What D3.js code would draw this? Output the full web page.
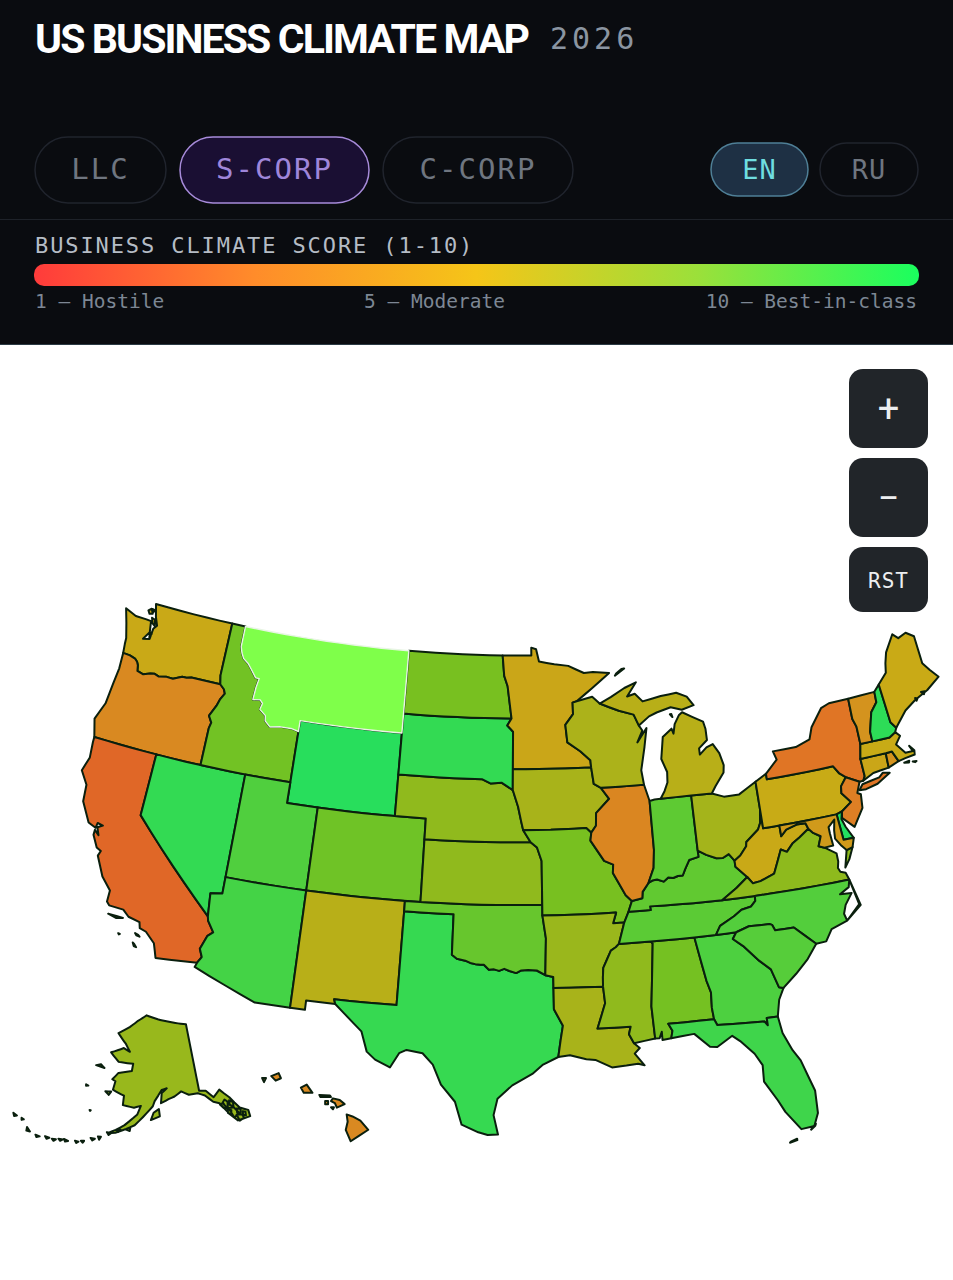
<!DOCTYPE html>
<html>
<head>
<meta charset="utf-8">
<style>
  html, body { margin: 0; padding: 0; background: #fff; }
  svg { display: block; }
</style>
<script src="https://cdn.jsdelivr.net/npm/d3@7"></script>
</head>
<body>
<script>
const entityTabs = ['LLC', 'S-CORP', 'C-CORP'];
const langTabs = ['EN', 'RU'];
const legendLabels = ['1 — Hostile', '5 — Moderate', '10 — Best-in-class'];
const scoreStops = [1, 3, 5, 7, 10];
const scoreColors = ['#e0392b', '#e07a25', '#c8ab16', '#78c020', '#22e060'];
const legendColors = ['#ff3b3b', '#ff8c2a', '#f5c518', '#9be03a', '#1aff5e'];

const stateCodes = ['WA','OR','CA','NV','ID','WY','UT','CO','AZ','NM','TX','OK','KS','NE','SD','ND','MN','IA','MO','AR','LA','MS','AL','GA','FL','TN','KY','IL','IN','OH','WV','VA','NC','SC','PA','NY','NJ','DE','MD','CT','RI','MA','VT','NH','ME','WI','MI','AK','HI','MT'];
const stateScores = [4.9,3.6,2.4,9.4,7.2,9.8,8.4,7.3,8.8,5.4,9.3,7.6,6.4,6.4,9.4,7.0,4.8,5.8,7.0,6.15,5.8,6.4,7.1,8.5,9.0,8.0,7.8,3.5,7.9,5.9,4.9,6.45,8.3,8.2,5.0,2.85,3.2,10,4.3,4.8,4.0,5.0,4.0,9.6,4.95,5.7,5.4,6.2,3.6,8];
const hoverState = 'MT';

// shared wiggly borders, lon/lat
const columbia = [[-124,46.27],[-123.5,46.25],[-123.1,46.17],[-122.9,46.05],[-122.78,45.9],[-122.7,45.63],[-122.25,45.55],[-121.8,45.68],[-121.5,45.72],[-121.2,45.65],[-120.65,45.73],[-120.2,45.72],[-119.6,45.92],[-119.3,45.93],[-118.98,46],[-116.92,46]];
const snake = [[-116.92,46],[-116.6,45.8],[-116.47,45.6],[-116.7,45.3],[-116.85,44.95],[-117.2,44.4],[-116.95,44.1],[-117.03,43.8]];
const bitterroot = [[-116.05,48],[-115.9,47.7],[-115.7,47.45],[-115.3,47.25],[-115,47],[-114.6,46.65],[-114.35,46.65],[-114.45,46.2],[-114.5,45.6],[-114,45.65],[-113.8,45.5],[-113.9,45.2],[-113.45,44.95],[-113.4,44.7],[-113,44.45],[-112.3,44.55],[-111.5,44.55],[-111.05,44.47]];
const redRiver = [[-100,34.56],[-99.7,34.38],[-99.2,34.3],[-98.9,34.2],[-98.6,34.15],[-98.3,34.13],[-98.1,34.13],[-97.8,33.9],[-97.5,33.92],[-97.2,33.85],[-96.9,33.95],[-96.6,33.85],[-96.2,33.75],[-95.9,33.88],[-95.5,33.9],[-95,33.87],[-94.5,33.64]];
const ohioIL = [[-89.15,37],[-88.5,37.1],[-88.45,37.4],[-88.05,37.8]];
const ohioIN = [[-88.05,37.8],[-87.8,37.9],[-87.5,37.93],[-87.1,37.8],[-86.8,37.98],[-86.5,37.93],[-86.2,38],[-85.9,38],[-85.7,38.3],[-85.4,38.7],[-84.8,38.8],[-84.8,39.1]];
const ohioOH = [[-84.8,39.1],[-84.3,38.85],[-83.7,38.63],[-83.3,38.6],[-82.9,38.75],[-82.6,38.4]];
const lowerMiss = [[-90.1,35],[-90.3,34.85],[-90.6,34.7],[-90.85,34.3],[-91.1,33.9],[-91.15,33.45],[-91.17,33]];
const rev = a => a.slice().reverse();

// lon/lat outlines, rough hand traced
const stateRings = {
  WA: [[[-124.73,48.38],[-123.9,48.16],[-123.1,48.15],[-122.75,48.13],[-122.62,47.6],[-122.95,47.2],[-122.5,47.28],[-122.45,47.8],[-122.25,48.0],[-122.5,48.4],[-122.75,49],[-117.03,49],[-117.04,46.42],...rev(columbia),[-124.07,46.7],[-124.1,47],[-124.4,47.7]],
    [[-123.15,48.6],[-122.95,48.72],[-122.78,48.5],[-123,48.45]],[[-122.75,48.3],[-122.5,48.25],[-122.4,47.95],[-122.6,48.05]],[[-122.9,48.72],[-122.7,48.7],[-122.75,48.6]],[[-122.6,47.6],[-122.45,47.55],[-122.55,47.35]]],
  OR: [[...columbia,...snake.slice(1),[-117.03,42],[-120,42],[-124.21,42],[-124.55,42.84],[-124.15,43.7],[-124.05,44.7],[-123.95,45.5]]],
  CA: [[[-124.21,42],[-120,42],[-120,39],[-114.63,35],[-114.57,34.8],[-114.14,34.3],[-114.43,34.08],[-114.72,33.4],[-114.52,33.03],[-114.72,32.72],[-117.12,32.53],[-117.25,32.85],[-117.4,33.2],[-118,33.65],[-118.4,33.75],[-118.5,34.03],[-119.2,34.15],[-119.6,34.42],[-120.47,34.45],[-120.65,34.6],[-120.65,35.15],[-121.3,35.7],[-121.9,36.6],[-121.8,36.85],[-122.1,36.96],[-122.5,37.5],[-122.5,37.75],[-122.2,37.55],[-122.4,37.9],[-122.1,38.05],[-122.45,38.1],[-122.5,37.85],[-123,38],[-123.7,38.9],[-123.8,39.7],[-124.35,40.3],[-124.1,41],[-124.2,41.75]],
    [[-120.4,34.05],[-119.9,34.05],[-119.5,34.03],[-119.9,33.95]],[[-118.6,33.47],[-118.4,33.42],[-118.3,33.35],[-118.5,33.38]],[[-118.6,33],[-118.5,32.95],[-118.35,32.82],[-118.5,32.85]],[[-119.55,33.27],[-119.45,33.25],[-119.5,33.22]]],
  NV: [[[-120,42],[-117.03,42],[-114.04,42],[-114.04,37],[-114.04,36.2],[-114.75,36.1],[-114.63,35],[-120,39]]],
  ID: [[[-117.03,49],[-116.05,49],...bitterroot,[-111.05,42],[-114.04,42],[-117.03,42],...rev(snake),[-117.04,46.42]]],
  MT: [[[-116.05,49],[-104.05,49],[-104.05,45.94],[-104.05,45],[-111.05,45],...rev(bitterroot)]],
  WY: [[[-111.05,45],[-104.05,45],[-104.05,43],[-104.05,41],[-111.05,41],[-111.05,42]]],
  UT: [[[-114.04,42],[-111.05,42],[-111.05,41],[-109.05,41],[-109.05,37],[-114.04,37]]],
  CO: [[[-109.05,41],[-102.05,41],[-102.05,37],[-109.05,37]]],
  AZ: [[[-114.04,37],[-109.05,37],[-109.05,31.33],[-111.07,31.33],[-114.81,32.5],[-114.72,32.72],[-114.52,33.03],[-114.72,33.4],[-114.43,34.08],[-114.14,34.3],[-114.57,34.8],[-114.63,35],[-114.75,36.1],[-114.04,36.2]]],
  NM: [[[-109.05,37],[-103,37],[-103,36.5],[-103.04,32],[-106.62,32],[-106.53,31.78],[-108.2,31.78],[-108.2,31.33],[-109.05,31.33]]],
  TX: [[[-103,36.5],[-100,36.5],...redRiver,[-94.04,33.55],[-94.04,33.02],[-94.04,32],[-93.55,31.2],[-93.7,30.5],[-93.85,29.7],[-94.7,29.35],[-95.3,28.9],[-96.4,28.35],[-97.2,27.7],[-97.4,26.9],[-97.15,25.96],[-97.7,25.93],[-98.2,26.05],[-99.1,26.4],[-99.5,27.5],[-100.3,28.3],[-100.8,29.25],[-101.4,29.77],[-102.3,29.88],[-102.7,29.7],[-103.15,28.98],[-104,29.3],[-104.5,29.65],[-104.9,30.6],[-106,31.4],[-106.53,31.78],[-106.62,32],[-103.04,32]]],
  OK: [[[-103,37],[-102.05,37],[-94.62,37],[-94.62,36.5],[-94.43,35.4],...rev(redRiver),[-100,36.5],[-103,36.5]]],
  KS: [[[-102.05,40],[-95.3,40],[-94.9,39.75],[-94.62,39.1],[-94.62,37],[-102.05,37]]],
  NE: [[[-104.05,43],[-98.5,43],[-97.9,42.8],[-97.2,42.85],[-96.45,42.5],[-96.1,41.7],[-95.9,41],[-95.77,40.58],[-95.3,40],[-102.05,40],[-102.05,41],[-104.05,41]]],
  SD: [[[-104.05,45.94],[-96.56,45.94],[-96.85,45.6],[-96.45,45.3],[-96.45,43.5],[-96.45,42.5],[-97.2,42.85],[-97.9,42.8],[-98.5,43],[-104.05,43],[-104.05,45]]],
  ND: [[[-104.05,49],[-97.23,49],[-97.1,48],[-96.85,47.5],[-96.56,45.94],[-104.05,45.94]]],
  MN: [[[-97.23,49],[-95.15,49],[-95.15,49.38],[-94.8,49.3],[-94.6,48.7],[-93.5,48.55],[-92.5,48.45],[-91.4,48.07],[-90.75,48.1],[-89.6,48],[-90.9,47.3],[-92,46.72],[-92.29,46.66],[-92.29,46.1],[-92.85,45.6],[-92.75,44.75],[-91.9,44.3],[-91.25,43.85],[-91.22,43.5],[-96.45,43.5],[-96.45,45.3],[-96.85,45.6],[-96.56,45.94],[-96.85,47.5],[-97.1,48]]],
  IA: [[[-96.45,43.5],[-91.22,43.5],[-91.1,42.7],[-90.65,42.5],[-90.15,41.95],[-91.05,41.3],[-91.1,40.7],[-91.42,40.38],[-91.73,40.61],[-94,40.58],[-95.77,40.58],[-95.9,41],[-96.1,41.7],[-96.45,42.5]]],
  MO: [[[-95.77,40.58],[-94,40.58],[-91.73,40.61],[-91.42,40.38],[-91.5,40],[-90.7,39],[-90.15,38.8],[-90.2,38.4],[-89.5,37.3],[-89.15,37],[-89.4,36.5],[-89.7,36],[-90.37,36],[-90.15,36.5],[-94.62,36.5],[-94.62,37],[-94.62,39.1],[-94.9,39.75],[-95.3,40]]],
  AR: [[[-94.62,36.5],[-90.15,36.5],[-90.37,36],[-89.7,36],...lowerMiss,[-94.04,33.02],[-94.04,33.55],[-94.5,33.64],[-94.43,35.4]]],
  LA: [[[-94.04,33.02],[-91.17,33],[-91.1,32.2],[-91.6,31],[-89.73,31],[-89.85,30.65],[-89.6,30.2],[-89.3,29.95],[-89.6,29.7],[-89.1,29.1],[-89.45,29.2],[-90.1,29.15],[-90.9,29.1],[-91.8,29.5],[-92.3,29.55],[-93.2,29.77],[-93.85,29.7],[-93.7,30.5],[-93.55,31.2],[-94.04,32]]],
  MS: [[[-88.2,35],[-88.1,34.9],[-88.47,31.9],[-88.4,30.35],[-89.6,30.2],[-89.85,30.65],[-89.73,31],[-91.6,31],[-91.1,32.2],...rev(lowerMiss)]],
  AL: [[[-88.2,35],[-85.6,35],[-85.18,32.87],[-85,32.3],[-85.05,31.55],[-85,31],[-87.6,31],[-87.4,30.65],[-87.5,30.3],[-88,30.25],[-88,30.65],[-88.15,30.35],[-88.4,30.35],[-88.47,31.9],[-88.1,34.9]]],
  GA: [[[-85.6,35],[-84.32,34.99],[-83.1,35],[-83.35,34.7],[-82.8,34.3],[-82,33.5],[-81.4,33],[-81.1,32.1],[-80.85,32.03],[-81.2,31.5],[-81.42,30.72],[-82.05,30.72],[-82.05,30.37],[-82.2,30.57],[-84.86,30.7],[-85,31],[-85.05,31.55],[-85,32.3],[-85.18,32.87]]],
  FL: [[[-87.6,31],[-85,31],[-84.86,30.7],[-82.2,30.57],[-82.05,30.37],[-82.05,30.72],[-81.42,30.72],[-81.3,29.9],[-80.9,29],[-80.55,28.45],[-80.05,26.9],[-80.1,25.8],[-80.4,25.2],[-81.1,25.15],[-81.8,26.1],[-82.1,26.7],[-82.7,27.7],[-82.65,28.5],[-83,29.1],[-83.7,29.8],[-84.1,30.1],[-85,29.65],[-85.4,29.7],[-86.2,30.4],[-87.5,30.3],[-87.4,30.65]],
    [[-80.6,25.05],[-80.35,25.2],[-80.3,25.3],[-80.5,25.15]],[[-81.8,24.58],[-81.4,24.65],[-81.4,24.72],[-81.75,24.63]]],
  TN: [[[-90.1,35],[-89.7,36],[-89.4,36.5],[-88.05,36.5],[-88.07,36.68],[-83.68,36.6],[-81.68,36.59],[-81.7,36.35],[-82,36.12],[-82.6,36.03],[-83.1,35.77],[-84,35.4],[-84.32,34.99],[-85.6,35],[-88.2,35]]],
  KY: [[[-89.4,36.5],...ohioIL,...ohioIN.slice(1),...ohioOH.slice(1),[-82.6,38.1],[-81.97,37.54],[-82.7,37.1],[-83.68,36.6],[-88.07,36.68],[-88.05,36.5]]],
  IL: [[[-90.65,42.5],[-87.8,42.5],[-87.53,41.7],[-87.53,39.35],[-87.65,38.5],...rev(ohioIL),[-89.5,37.3],[-90.2,38.4],[-90.15,38.8],[-90.7,39],[-91.5,40],[-91.42,40.38],[-91.1,40.7],[-91.05,41.3],[-90.15,41.95]]],
  IN: [[[-87.53,41.7],[-87.2,41.75],[-86.8,41.76],[-84.8,41.76],...rev(ohioIN),[-87.65,38.5],[-87.53,39.35]]],
  OH: [[[-84.8,41.76],[-83.45,41.73],[-82.7,41.5],[-81.7,41.5],[-80.52,41.98],[-80.52,40.64],[-80.65,40],[-80.85,39.7],[-81.7,39.2],[-81.75,39],[-82.2,38.6],...rev(ohioOH)]],
  WV: [[[-80.52,40.64],[-80.52,39.72],[-79.48,39.72],[-79.48,39.2],[-79.1,39.47],[-78.4,39.62],[-77.83,39.6],[-77.72,39.32],[-78.35,39],[-78.87,38.76],[-79.3,38.42],[-79.65,38.58],[-80.3,37.5],[-81.2,37.25],[-81.68,37.2],[-81.97,37.54],[-82.6,38.1],[-82.6,38.4],[-82.2,38.6],[-81.75,39],[-81.7,39.2],[-80.85,39.7],[-80.65,40]]],
  VA: [[[-83.68,36.6],[-82.7,37.1],[-81.97,37.54],[-81.68,37.2],[-81.2,37.25],[-80.3,37.5],[-79.65,38.58],[-79.3,38.42],[-78.87,38.76],[-78.35,39],[-77.72,39.32],[-77.5,39.1],[-77.05,38.85],[-77.3,38.4],[-76.95,38.28],[-76.3,37.9],[-76.3,37.5],[-76.4,37.2],[-76.3,37],[-76,36.9],[-75.87,36.55],[-81.68,36.59]],
    [[-75.95,37.15],[-75.65,37.95],[-75.25,38.03],[-75.6,37.5]]],
  NC: [[[-81.68,36.59],[-75.87,36.55],[-76,36.2],[-76.6,35.95],[-75.9,35.9],[-76.4,35.4],[-76.6,35],[-76.5,34.65],[-77.5,34.4],[-77.95,33.87],[-78.55,33.85],[-79.68,34.8],[-80.8,34.82],[-80.93,35.1],[-81.05,35.15],[-82.3,35.2],[-83.1,35],[-84.32,34.99],[-84,35.4],[-83.1,35.77],[-82.6,36.03],[-82,36.12],[-81.7,36.35]],
    [[-75.87,36.55],[-75.52,35.25],[-76.5,34.65],[-75.6,35.3]]],
  SC: [[[-83.1,35],[-82.3,35.2],[-81.05,35.15],[-80.93,35.1],[-80.8,34.82],[-79.68,34.8],[-78.55,33.85],[-79.2,33.2],[-80,32.6],[-80.85,32.03],[-81.1,32.1],[-81.4,33],[-82,33.5],[-82.8,34.3],[-83.35,34.7]]],
  PA: [[[-80.52,41.98],[-79.76,42.27],[-79.76,42],[-75.35,42],[-75.05,41.6],[-74.7,41.36],[-75.13,40.98],[-75.2,40.65],[-74.72,40.15],[-75.42,39.8],[-75.79,39.72],[-79.48,39.72],[-80.52,39.72],[-80.52,40.64]]],
  NY: [[[-79.76,42.27],[-78.9,42.85],[-79.05,43.27],[-77.5,43.27],[-76.5,43.5],[-76.2,44.05],[-75.3,44.85],[-74.7,45],[-73.35,45],[-73.4,44],[-73.25,43.6],[-73.27,42.75],[-73.5,42.05],[-73.49,41.2],[-73.65,41],[-73.9,41],[-74.7,41.36],[-75.05,41.6],[-75.35,42],[-79.76,42]],
    [[-74.03,40.6],[-73.75,40.85],[-72.6,40.98],[-72.3,41.15],[-71.87,41.07],[-72.8,40.7],[-73.6,40.58]]],
  NJ: [[[-74.7,41.36],[-73.9,41],[-74.2,40.5],[-74,40.4],[-74.1,39.75],[-74.85,38.95],[-75.5,39.5],[-75.42,39.8],[-74.72,40.15],[-75.2,40.65],[-75.13,40.98]]],
  DE: [[[-75.79,39.72],[-75.42,39.8],[-75.55,39.45],[-75.4,39.05],[-75.05,38.45],[-75.7,38.46]]],
  MD: [[[-79.48,39.72],[-75.79,39.72],[-75.7,38.46],[-75.05,38.45],[-75.25,38.03],[-75.65,37.95],[-75.9,38.2],[-76.2,38.6],[-76.15,39],[-76,39.5],[-76.45,39.2],[-76.45,38.9],[-76.4,38.3],[-76.95,38.28],[-77.3,38.4],[-77.05,38.85],[-77.5,39.1],[-77.72,39.32],[-77.83,39.6],[-78.4,39.62],[-79.1,39.47],[-79.48,39.2]]],
  CT: [[[-73.5,42.05],[-71.8,42.02],[-71.85,41.32],[-72.9,41.25],[-73.65,41],[-73.49,41.2]]],
  RI: [[[-71.8,42.02],[-71.38,42.02],[-71.12,41.5],[-71.85,41.32]]],
  MA: [[[-73.5,42.05],[-73.27,42.75],[-72.46,42.73],[-71.3,42.7],[-70.85,42.88],[-70.6,42.65],[-71,42.3],[-70.55,41.8],[-70.05,41.78],[-70.2,42.07],[-69.95,41.8],[-70,41.6],[-70.65,41.55],[-71.12,41.5],[-71.38,42.02],[-71.8,42.02]],
    [[-70.25,41.3],[-70,41.28],[-70.1,41.24]],[[-70.8,41.35],[-70.45,41.38],[-70.5,41.3]]],
  VT: [[[-73.35,45],[-71.5,45.01],[-71.55,44.5],[-72.05,44.1],[-72.45,43.2],[-72.46,42.73],[-73.27,42.75],[-73.25,43.6],[-73.4,44]]],
  NH: [[[-71.5,45.01],[-71.08,45.3],[-70.98,43.4],[-70.7,43.07],[-70.85,42.88],[-71.3,42.7],[-72.46,42.73],[-72.45,43.2],[-72.05,44.1],[-71.55,44.5]]],
  ME: [[[-71.08,45.3],[-70.4,45.75],[-70.25,46.2],[-70,46.7],[-69.23,47.46],[-68.9,47.2],[-68.3,47.35],[-67.8,47.07],[-67.8,45.7],[-67.45,45.3],[-67,44.85],[-68,44.4],[-69,44.1],[-69.8,43.75],[-70.7,43.07],[-70.98,43.4]],
    [[-68.45,44.4],[-68.2,44.38],[-68.3,44.25]],[[-68.95,44.2],[-68.8,44.15],[-68.9,44.05]]],
  WI: [[[-92.29,46.66],[-92,46.72],[-90.9,46.9],[-90.4,46.55],[-89.1,46.14],[-88.1,45.9],[-87.8,45.35],[-87.6,45.1],[-88,44.55],[-87.3,45.2],[-87.55,44.3],[-87.9,43.2],[-87.8,42.5],[-90.65,42.5],[-91.1,42.7],[-91.22,43.5],[-91.25,43.85],[-91.9,44.3],[-92.75,44.75],[-92.85,45.6],[-92.29,46.1]]],
  MI: [[[-86.8,41.76],[-86.5,42.1],[-86.25,42.5],[-86.2,43],[-86.5,43.65],[-86.25,44.7],[-85.6,45.05],[-85.5,44.8],[-85.35,45.25],[-85,45.65],[-84.75,45.78],[-84.1,45.5],[-83.4,45.2],[-83.3,44.85],[-83.3,44.3],[-83.9,43.95],[-83.9,43.65],[-83.4,43.95],[-82.95,44.07],[-82.6,43.6],[-82.42,43],[-82.5,42.65],[-83.15,42.05],[-83.45,41.73],[-84.8,41.76]],
    [[-90.4,46.55],[-89.1,46.14],[-88.1,45.9],[-87.8,45.35],[-87.05,45.75],[-86.5,45.9],[-85.5,46.08],[-84.75,45.9],[-83.9,46.05],[-84.3,46.5],[-85,46.75],[-86.1,46.67],[-87.4,46.5],[-87.9,46.9],[-88.45,46.8],[-87.75,47.45],[-88.6,47.22],[-89.6,46.83]],
    [[-89.2,47.85],[-88.5,48.17],[-88.7,48.15],[-89.1,47.95]],[[-85.6,45.75],[-85.5,45.75],[-85.45,45.6]]],
  AK: [[[-141,69.65],[-141,60.3],[-139.2,60.1],[-137.5,59],[-135.5,59.8],[-133.5,58.4],[-131.8,56.6],[-130,55.9],[-130.1,55],[-131.5,55],[-133.2,55],[-134.7,56.2],[-136.4,58],[-137.9,58.4],[-139.7,59.5],[-141.5,60],[-144,60],[-146,60.6],[-148,60],[-149.7,59.7],[-151.8,59.2],[-151.5,60.6],[-150,61.2],[-151.5,61],[-153.5,59.5],[-154,58.8],[-156.5,57.3],[-158.5,56.1],[-160.5,55.5],[-163,54.8],[-164.8,54.6],[-163,55.2],[-161,56],[-158,57.6],[-157.2,58.8],[-159,58.5],[-162,58.7],[-162,60],[-165.3,60.6],[-165,61.8],[-166,62],[-164.5,63],[-160.5,63.5],[-160.3,64.5],[-165,64.5],[-168,65.6],[-164,66.5],[-161.8,66.1],[-163.5,67.1],[-166.8,68.4],[-163,69.5],[-160,70.5],[-156.6,71.35],[-152,70.8],[-148,70.4]],
    [[-154.5,56.9],[-152.2,57.4],[-152.4,58.4],[-153.8,57.9]],[[-167.3,60.2],[-165.7,60.3],[-166.2,59.8]],[[-171.7,63.4],[-169,63.3],[-170.3,63.7]],[[-173,60.5],[-172.3,60.4],[-172.9,60.3]],[[-170.3,57.2],[-170,57.2],[-170.1,57.1]],
    [[-135.7,57.9],[-134.9,58.3],[-134.3,57.9],[-134.7,57]],[[-136.4,57.8],[-135.5,57.9],[-135,57.1],[-135.7,57.2]],[[-134.5,57],[-133.2,56.9],[-132.4,56],[-133.8,55.5]],[[-133.1,55.8],[-131.8,55.6],[-131.6,55.1],[-132.8,54.9]],
    [[-133.8,58],[-133,57.6],[-133.2,57],[-134,57.4]],[[-132.6,56.6],[-131.7,56.4],[-132,55.9],[-132.8,56.1]],[[-134.8,56.9],[-134,56.6],[-134.4,56],[-135,56.4]],[[-131.4,56],[-130.8,55.8],[-131,55.3],[-131.6,55.5]],
    [[-166.9,53.9],[-166.2,53.95],[-166.5,53.5]],[[-168.5,53.5],[-167.5,53.5],[-168,53.2]],[[-170.5,52.8],[-169.8,52.9],[-170,52.6]],[[-174.3,52.4],[-173.3,52.3],[-173.9,52.1]],[[-176.9,51.9],[-176,52],[-176.4,51.7]],[[-178.5,51.9],[-177.5,51.9],[-178,51.65]],
    [[-165,54.7],[-164,54.65],[-164.5,54.35]],[[-162.8,55.2],[-161.8,55.3],[-162.3,54.95]],[[-160.5,55.4],[-159.5,55.8],[-159.6,55.25]],[[-175.5,52.2],[-174.5,52.3],[-175,52]],[[-171.8,52.6],[-171,52.6],[-171.4,52.35]],
    [[-180.6,51.6],[-179.6,51.6],[-180.2,51.35]],[[-183,52.1],[-182,51.7],[-182.8,51.6]],[[-187.2,53],[-186.2,52.9],[-186.7,52.65]],[[-185,52.9],[-184.4,52.85],[-184.8,52.65]]],
  HI: [[[-155.9,20.25],[-155.6,20.15],[-155.2,19.95],[-154.8,19.5],[-155.3,19.2],[-155.7,18.95],[-155.95,19.5],[-155.85,19.9]],[[-156.7,20.9],[-156.6,21.03],[-156.25,20.95],[-156,20.75],[-156.4,20.58],[-156.5,20.8]],[[-158.25,21.55],[-157.95,21.7],[-157.65,21.3],[-158.1,21.3]],[[-159.78,22.1],[-159.4,22.25],[-159.28,22],[-159.55,21.88]],[[-157.3,21.2],[-156.75,21.17],[-156.7,21.1],[-157.25,21.1]],[[-157,20.9],[-156.85,20.9],[-156.85,20.75],[-157,20.75]],[[-160.25,22],[-160.05,22],[-160.15,21.8]],[[-156.7,20.6],[-156.55,20.6],[-156.6,20.5]]]
};

// straight lon/lat edges get extra vertices so parallels bend like the projection wants
function denseRing(ring) {
  const out = [];
  ring.forEach((p, i) => {
    const q = ring[(i + 1) % ring.length];
    const n = Math.max(1, Math.ceil(Math.max(Math.abs(q[0] - p[0]), Math.abs(q[1] - p[1]))));
    for (let k = 0; k < n; k++) out.push([p[0] + (q[0] - p[0]) * k / n, p[1] + (q[1] - p[1]) * k / n]);
  });
  out.push(out[0].slice());
  return out;
}

function stateFeature(code) {
  const coordinates = stateRings[code].map(ring => {
    let r = denseRing(ring);
    if (d3.geoArea({ type: 'Polygon', coordinates: [r] }) > 2 * Math.PI) r = r.reverse();
    return [r];
  });
  return { type: 'Feature', id: code, geometry: { type: 'MultiPolygon', coordinates } };
}

const svg = d3.select('body').append('svg').attr('width', 953).attr('height', 1280);
const mono = '"DejaVu Sans Mono", "Liberation Mono", monospace';

// header
svg.append('rect').attr('width', 953).attr('height', 344).attr('fill', '#0a0c10');
svg.append('rect').attr('y', 344).attr('width', 953).attr('height', 1).attr('fill', '#2b3a44');
svg.append('rect').attr('y', 219).attr('width', 953).attr('height', 1).attr('fill', '#1e2229');

svg.append('text').attr('x', 35).attr('y', 53)
  .attr('font-family', 'Roboto').attr('font-weight', 700).attr('font-size', 41)
  .attr('letter-spacing', -1.9).attr('fill', '#fff').text('US BUSINESS CLIMATE MAP');
svg.append('text').attr('x', 550).attr('y', 49)
  .attr('font-family', mono).attr('font-size', 30).attr('letter-spacing', 4)
  .attr('fill', '#8b95a1').text('2026');

const tabBoxes = [[35, 131], [180, 189], [383, 190]];
const tabs = svg.selectAll('g.tab').data(entityTabs).join('g').attr('class', 'tab');
tabs.append('rect')
  .attr('x', (d, i) => tabBoxes[i][0]).attr('y', 137)
  .attr('width', (d, i) => tabBoxes[i][1]).attr('height', 66).attr('rx', 33)
  .attr('fill', d => d === 'S-CORP' ? '#1a0f33' : 'none')
  .attr('stroke', d => d === 'S-CORP' ? '#a78bda' : '#20242d').attr('stroke-width', 1.5);
tabs.append('text')
  .attr('x', (d, i) => tabBoxes[i][0] + tabBoxes[i][1] / 2).attr('y', 179)
  .attr('text-anchor', 'middle').attr('font-family', mono).attr('font-size', 29).attr('letter-spacing', 2)
  .attr('fill', d => d === 'S-CORP' ? '#9f86da' : '#6f7680').text(d => d);

const langBoxes = [[711, 97], [820, 98]];
const langs = svg.selectAll('g.lang').data(langTabs).join('g').attr('class', 'lang');
langs.append('rect')
  .attr('x', (d, i) => langBoxes[i][0]).attr('y', 143)
  .attr('width', (d, i) => langBoxes[i][1]).attr('height', 53).attr('rx', 26.5)
  .attr('fill', d => d === 'EN' ? '#1e3044' : 'none')
  .attr('stroke', d => d === 'EN' ? '#4f7f96' : '#20242d').attr('stroke-width', 1.5);
langs.append('text')
  .attr('x', (d, i) => langBoxes[i][0] + langBoxes[i][1] / 2).attr('y', 179)
  .attr('text-anchor', 'middle').attr('font-family', mono).attr('font-size', 27).attr('letter-spacing', 1)
  .attr('fill', d => d === 'EN' ? '#6fdde0' : '#6f7680').text(d => d);

// legend
svg.append('text').attr('x', 35).attr('y', 253)
  .attr('font-family', mono).attr('font-size', 22).attr('letter-spacing', 1.9)
  .attr('fill', '#b5bcc5').text('BUSINESS CLIMATE SCORE (1-10)');

const grad = svg.append('defs').append('linearGradient').attr('id', 'scoreGrad');
grad.selectAll('stop').data(legendColors).join('stop')
  .attr('offset', (d, i) => (i / (legendColors.length - 1) * 100) + '%')
  .attr('stop-color', d => d);
svg.append('rect').attr('x', 34).attr('y', 264).attr('width', 885).attr('height', 22).attr('rx', 10)
  .attr('fill', 'url(#scoreGrad)');

const anchors = ['start', 'middle', 'end'];
const legendX = [35, 434.5, 917];
svg.selectAll('text.legendLabel').data(legendLabels).join('text')
  .attr('class', 'legendLabel')
  .attr('x', (d, i) => legendX[i]).attr('y', 308)
  .attr('text-anchor', (d, i) => anchors[i])
  .attr('font-family', mono).attr('font-size', 19.5)
  .attr('fill', '#7d8794').text(d => d);

// map
const color = d3.scaleLinear().domain(scoreStops).range(scoreColors).clamp(true);
const projection = d3.geoAlbersUsa().scale(1188).translate([510, 869.5]);
const path = d3.geoPath(projection);
const scoreByCode = new Map(stateCodes.map((c, i) => [c, stateScores[i]]));

svg.append('g').selectAll('path').data(stateCodes.map(stateFeature)).join('path')
  .attr('d', path)
  .attr('fill', d => d.id === hoverState ? '#7fff4a' : color(scoreByCode.get(d.id)))
  .attr('stroke', d => d.id === hoverState ? '#e8f5e4' : '#0a1f0e')
  .attr('stroke-width', d => d.id === hoverState ? 1.4 : 2)
  .attr('stroke-linejoin', 'round');

// zoom buttons
const zoomButtons = ['+', '−', 'RST'];
const buttonY = [369, 458, 547];
const buttonH = [79, 79, 65];
const btn = svg.selectAll('g.btn').data(zoomButtons).join('g').attr('class', 'btn');
btn.append('rect').attr('x', 849).attr('y', (d, i) => buttonY[i])
  .attr('width', 79).attr('height', (d, i) => buttonH[i]).attr('rx', 14).attr('fill', '#212529');
btn.append('text').attr('x', 888.5).attr('y', (d, i) => buttonY[i] + buttonH[i] / 2 + (d === 'RST' ? 8 : 13))
  .attr('text-anchor', 'middle').attr('font-family', d => d === 'RST' ? mono : 'Roboto')
  .attr('letter-spacing', d => d === 'RST' ? 1 : 0)
  .attr('font-size', d => d === 'RST' ? 21 : 38).attr('fill', '#eceef0').text(d => d);
</script>
</body>
</html>
